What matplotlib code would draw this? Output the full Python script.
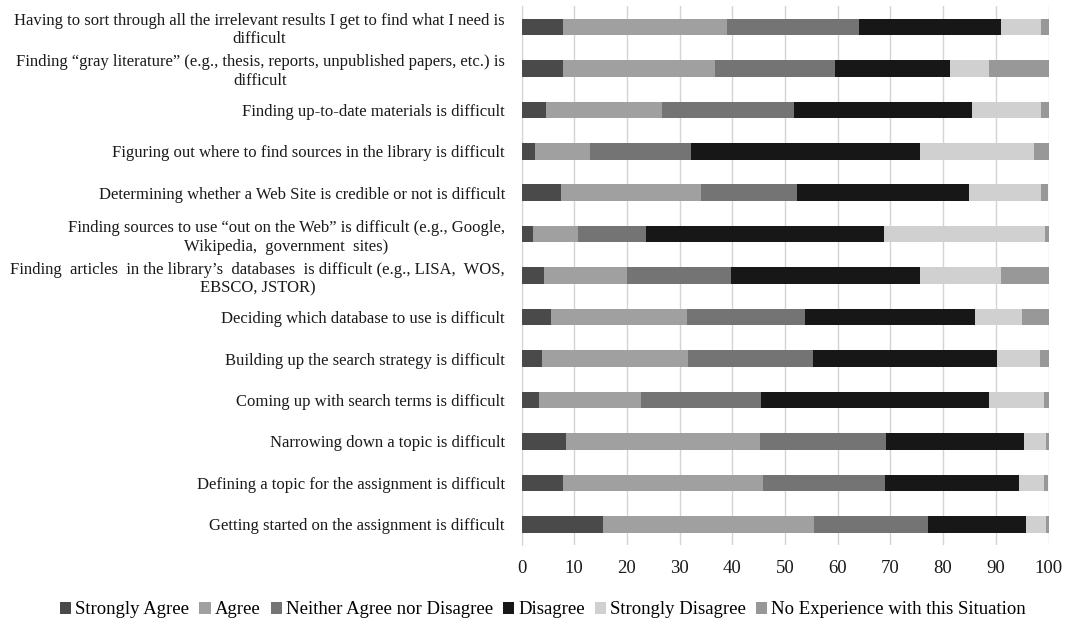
import numpy as np
import matplotlib.pyplot as plt

plt.rcParams['font.family'] = ['Liberation Serif', 'DejaVu Serif']

# survey statements, top to bottom as in the chart
statements = [
    "Having to sort through all the irrelevant results I get to find what I need is\ndifficult",
    "Finding \u201cgray literature\u201d (e.g., thesis, reports, unpublished papers, etc.) is\ndifficult",
    "Finding up-to-date materials is difficult",
    "Figuring out where to find sources in the library is difficult",
    "Determining whether a Web Site is credible or not is difficult",
    "Finding sources to use \u201cout on the Web\u201d is difficult (e.g., Google,\nWikipedia,  government  sites)",
    "Finding  articles  in the library\u2019s  databases  is difficult (e.g., LISA,  WOS,\nEBSCO, JSTOR)",
    "Deciding which database to use is difficult",
    "Building up the search strategy is difficult",
    "Coming up with search terms is difficult",
    "Narrowing down a topic is difficult",
    "Defining a topic for the assignment is difficult",
    "Getting started on the assignment is difficult",
]

series_names = ["Strongly Agree", "Agree", "Neither Agree nor Disagree",
                "Disagree", "Strongly Disagree", "No Experience with this Situation"]

strongly_agree    = [7.9, 7.9, 4.6, 2.6, 7.4, 2.2, 4.2, 5.5, 3.9, 3.3, 8.4, 7.8, 15.4]
agree             = [31.1, 28.9, 22.0, 10.4, 26.6, 8.6, 15.8, 25.9, 27.6, 19.4, 36.8, 38.0, 40.1]
neither           = [25.1, 22.7, 25.1, 19.1, 18.3, 12.8, 19.7, 22.3, 23.8, 22.7, 24.0, 23.1, 21.6]
disagree          = [26.8, 21.8, 33.8, 43.6, 32.6, 45.2, 35.9, 32.4, 34.9, 43.4, 26.1, 25.5, 18.6]
strongly_disagree = [7.6, 7.4, 13.1, 21.5, 13.6, 30.5, 15.4, 8.8, 8.1, 10.4, 4.2, 4.8, 3.8]
no_experience     = [1.5, 11.3, 1.5, 2.8, 1.4, 0.7, 9.0, 5.1, 1.8, 0.9, 0.5, 0.7, 0.5]

colors = ["#4a4a4a", "#a0a0a0", "#747474", "#171717", "#d0d0d0", "#989898"]

series = [strongly_agree, agree, neither, disagree, strongly_disagree, no_experience]

fig = plt.figure(figsize=(10.71, 6.18), dpi=100)
ax = fig.add_axes([0.487, 0.118, 0.492, 0.872])

y = np.arange(len(statements))
left = np.zeros(len(statements))
for name, vals, c in zip(series_names, series, colors):
    vals = np.array(vals)
    ax.barh(y, vals, left=left, height=0.4, color=c, label=name, zorder=3)
    left += vals

ax.set_xlim(0, 100)
ax.set_ylim(len(statements) - 0.5, -0.5)
ax.set_xticks(np.arange(0, 101, 10))
ax.set_yticks(y)
ax.set_yticklabels(statements, multialignment='center')
ax.tick_params(axis='y', length=0, labelsize=12, pad=12, colors='#1a1a1a')
ax.tick_params(axis='x', length=0, labelsize=13.5, pad=11, colors='#1a1a1a')
ax.grid(axis='x', color='#d4d4d4', linewidth=1, zorder=0)
for s in ['top', 'right', 'bottom']:
    ax.spines[s].set_visible(False)
ax.spines['left'].set_color('#d4d4d4')

fig.legend(*ax.get_legend_handles_labels(), loc='center',
           bbox_to_anchor=(0.507, 1 - 610 / 618), ncol=6, frameon=False,
           fontsize=13.5, handlelength=0.6, handleheight=0.6, handletextpad=0.2,
           columnspacing=0.55, borderaxespad=0, borderpad=0)

fig.savefig("out.png", dpi=100)
